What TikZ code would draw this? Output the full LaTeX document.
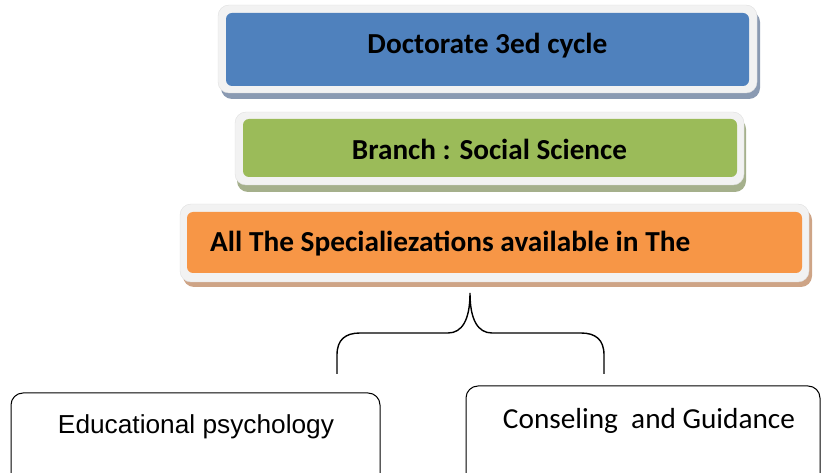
\documentclass[tikz,border=0pt]{standalone}
\usepackage{fontspec}
\setmainfont{Carlito}
\newfontfamily\arialfont{Liberation Sans}
\usepackage{graphicx}
\definecolor{cblue}{HTML}{4F81BD}
\definecolor{cgreen}{HTML}{9BBB59}
\definecolor{corange}{HTML}{F79646}
\definecolor{framec}{HTML}{F2F2F2}
\definecolor{shblue}{RGB}{138,154,178}
\definecolor{shgreen}{RGB}{165,176,140}
\definecolor{shorange}{RGB}{206,164,134}
\newcommand\fitwidth[2]{\resizebox{#1}{\height}{#2}}
\tikzset{
  fillbox/.style={draw=none, rounded corners=6pt, inner sep=0pt},
  framebox/.style={fill=framec, draw=black!12, line width=0.4pt, rounded corners=11pt},
  shadowbox/.style={rounded corners=11pt},
  headtext/.style={anchor=base, inner sep=0pt, font=\fontsize{29}{34}\selectfont\bfseries},
  leafbox/.style={draw=black, line width=1pt, rounded corners=12pt, inner sep=0pt},
  bracket/.style={draw=black, line width=1.4pt}
}
\begin{document}
\begin{tikzpicture}[x=1pt,y=-1pt]
\useasboundingbox (0,0) rectangle (823,473);
\clip (0,0) rectangle (823,473);
% blue
\fill[shblue, shadowbox] (221,11) rectangle (760,99);
\path[framebox] (218,5) rectangle (757,93);
\node[fillbox, fill=cblue, minimum width=523pt, minimum height=73pt] (doc) at (487.5,49.5) {};
\node[headtext] (doct) at (487.5,53.5) {\fitwidth{240pt}{Doctorate 3ed cycle}};
% green
\fill[shgreen, shadowbox] (237,118) rectangle (746,192);
\path[framebox] (235,112) rectangle (744,185);
\node[fillbox, fill=cgreen, minimum width=494pt, minimum height=58pt] (branch) at (490,148) {};
\node[headtext] (brancht) at (489.5,160) {\fitwidth{275pt}{Branch : Social Science}};
% orange
\fill[shorange, shadowbox] (183,209) rectangle (812,287);
\path[framebox] (180,204) rectangle (809,282);
\node[fillbox, fill=corange, minimum width=615pt, minimum height=61pt] (spec) at (494.5,242.5) {};
\node[headtext, anchor=base west] (spect) at (210,251.5) {\fitwidth{480pt}{All The Specialiezations available in The}};
% bracket
\coordinate (tip) at (470,293);
\coordinate (bl) at (337,374);
\coordinate (br) at (604,374);
\draw[bracket] (bl) -- (337,355) .. controls (337,340) and (345,333) .. (360,333)
  -- (448,333) .. controls (462,333) and (470,320) .. (tip)
  .. controls (470,320) and (478,333) .. (492,333)
  -- (581,333) .. controls (596,333) and (604,340) .. (604,355) -- (br);
% leaves
\node[leafbox, minimum width=369pt, minimum height=110pt] (edu) at (195.5,448) {};
\node[anchor=base, inner sep=0pt, font=\arialfont\fontsize{26}{31}\selectfont] (edut) at (196,434) {\fitwidth{276pt}{Educational psychology}};
\node[leafbox, minimum width=354pt, minimum height=116pt] (cons) at (643,444) {};
\node[anchor=base, inner sep=0pt, font=\fontsize{29}{34}\selectfont] (const) at (649,428.5) {\fitwidth{292pt}{Conseling\ \ and Guidance}};
\end{tikzpicture}
\end{document}
